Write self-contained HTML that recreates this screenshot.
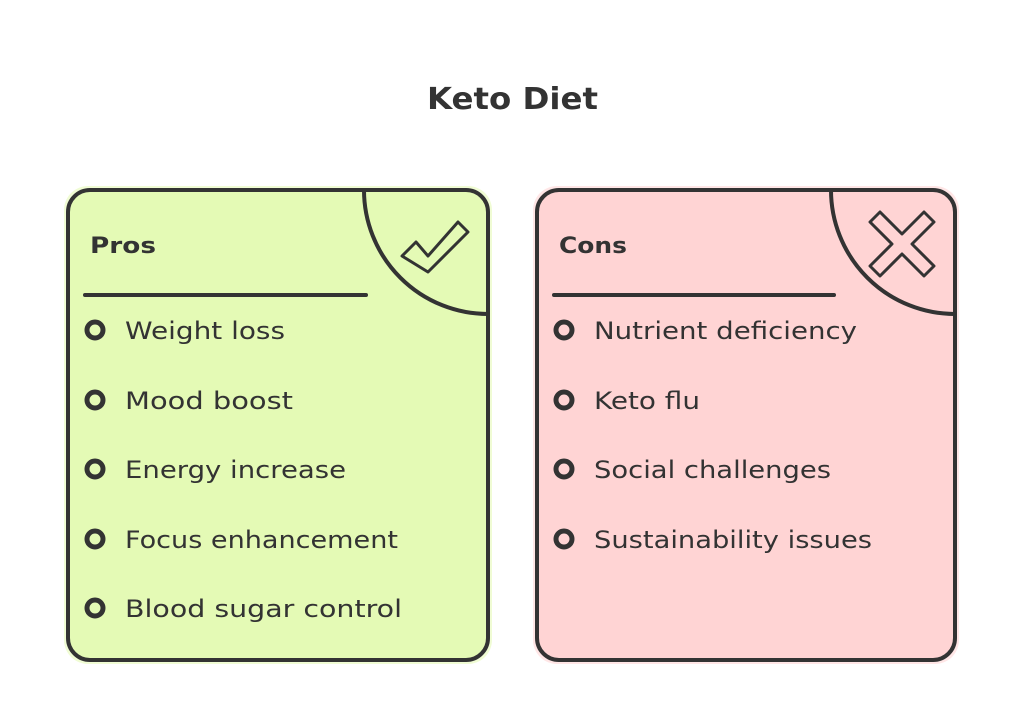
<!DOCTYPE html>
<html><head><meta charset="utf-8"><style>
body{margin:0;width:1024px;height:707px;background:#fff;overflow:hidden;font-family:"DejaVu Sans","Liberation Sans",sans-serif;color:#333}
</style></head><body>
<svg width="1024" height="707" xmlns="http://www.w3.org/2000/svg" style="position:absolute;left:0;top:0" font-family="DejaVu Sans, Liberation Sans, sans-serif">
<defs>
<clipPath id="c1"><rect x="68" y="190" width="420" height="470" rx="22"/></clipPath>
<clipPath id="c2"><rect x="537" y="190" width="418" height="470" rx="22"/></clipPath>
</defs>
<text x="427" y="109" font-size="30" font-weight="bold" fill="#333" textLength="171" lengthAdjust="spacingAndGlyphs">Keto Diet</text>
<!-- left card -->
<rect x="64" y="186" width="428" height="478" rx="24" fill="#e6fab8" opacity="0.6"/>
<rect x="68" y="190" width="420" height="470" rx="22" fill="#e4fab5" stroke="#333" stroke-width="4"/>
<path d="M364 190 A124 124 0 0 0 488 314" fill="none" stroke="#333" stroke-width="4" clip-path="url(#c1)"/>
<path d="M402 256 L416 242 L428 256 L458 222 L468 232 L428 272 Z" fill="none" stroke="#333" stroke-width="3" stroke-linejoin="round"/>
<text x="90" y="253" font-size="22" font-weight="bold" fill="#333" textLength="66" lengthAdjust="spacingAndGlyphs">Pros</text>
<line x1="85" y1="295" x2="366" y2="295" stroke="#333" stroke-width="4" stroke-linecap="round"/>
<g font-size="24" fill="#333">
<circle cx="95" cy="330" r="8" fill="none" stroke="#333" stroke-width="5"/><text x="125" y="339" textLength="160" lengthAdjust="spacingAndGlyphs">Weight loss</text>
<circle cx="95" cy="400" r="8" fill="none" stroke="#333" stroke-width="5"/><text x="125" y="409" textLength="168" lengthAdjust="spacingAndGlyphs">Mood boost</text>
<circle cx="95" cy="469" r="8" fill="none" stroke="#333" stroke-width="5"/><text x="125" y="478" textLength="221" lengthAdjust="spacingAndGlyphs">Energy increase</text>
<circle cx="95" cy="539" r="8" fill="none" stroke="#333" stroke-width="5"/><text x="125" y="548" textLength="273" lengthAdjust="spacingAndGlyphs">Focus enhancement</text>
<circle cx="95" cy="608" r="8" fill="none" stroke="#333" stroke-width="5"/><text x="125" y="617" textLength="277" lengthAdjust="spacingAndGlyphs">Blood sugar control</text>
</g>
<!-- right card -->
<rect x="533" y="186" width="426" height="478" rx="24" fill="#ffd6d6" opacity="0.6"/>
<rect x="537" y="190" width="418" height="470" rx="22" fill="#ffd4d4" stroke="#333" stroke-width="4"/>
<path d="M831 190 A124 124 0 0 0 955 314" fill="none" stroke="#333" stroke-width="4" clip-path="url(#c2)"/>
<path d="M870 222 L880 212 L902 234 L924 212 L934 222 L912 244 L934 266 L924 276 L902 254 L880 276 L870 266 L892 244 Z" fill="none" stroke="#333" stroke-width="3" stroke-linejoin="round"/>
<text x="559" y="253" font-size="22" font-weight="bold" fill="#333" textLength="68" lengthAdjust="spacingAndGlyphs">Cons</text>
<line x1="554" y1="295" x2="834" y2="295" stroke="#333" stroke-width="4" stroke-linecap="round"/>
<g font-size="24" fill="#333">
<circle cx="564" cy="330" r="8" fill="none" stroke="#333" stroke-width="5"/><text x="594" y="339" textLength="263" lengthAdjust="spacingAndGlyphs">Nutrient deficiency</text>
<circle cx="564" cy="400" r="8" fill="none" stroke="#333" stroke-width="5"/><text x="594" y="409" textLength="106" lengthAdjust="spacingAndGlyphs">Keto flu</text>
<circle cx="564" cy="469" r="8" fill="none" stroke="#333" stroke-width="5"/><text x="594" y="478" textLength="237" lengthAdjust="spacingAndGlyphs">Social challenges</text>
<circle cx="564" cy="539" r="8" fill="none" stroke="#333" stroke-width="5"/><text x="594" y="548" textLength="278" lengthAdjust="spacingAndGlyphs">Sustainability issues</text>
</g>
</svg>
</body></html>
